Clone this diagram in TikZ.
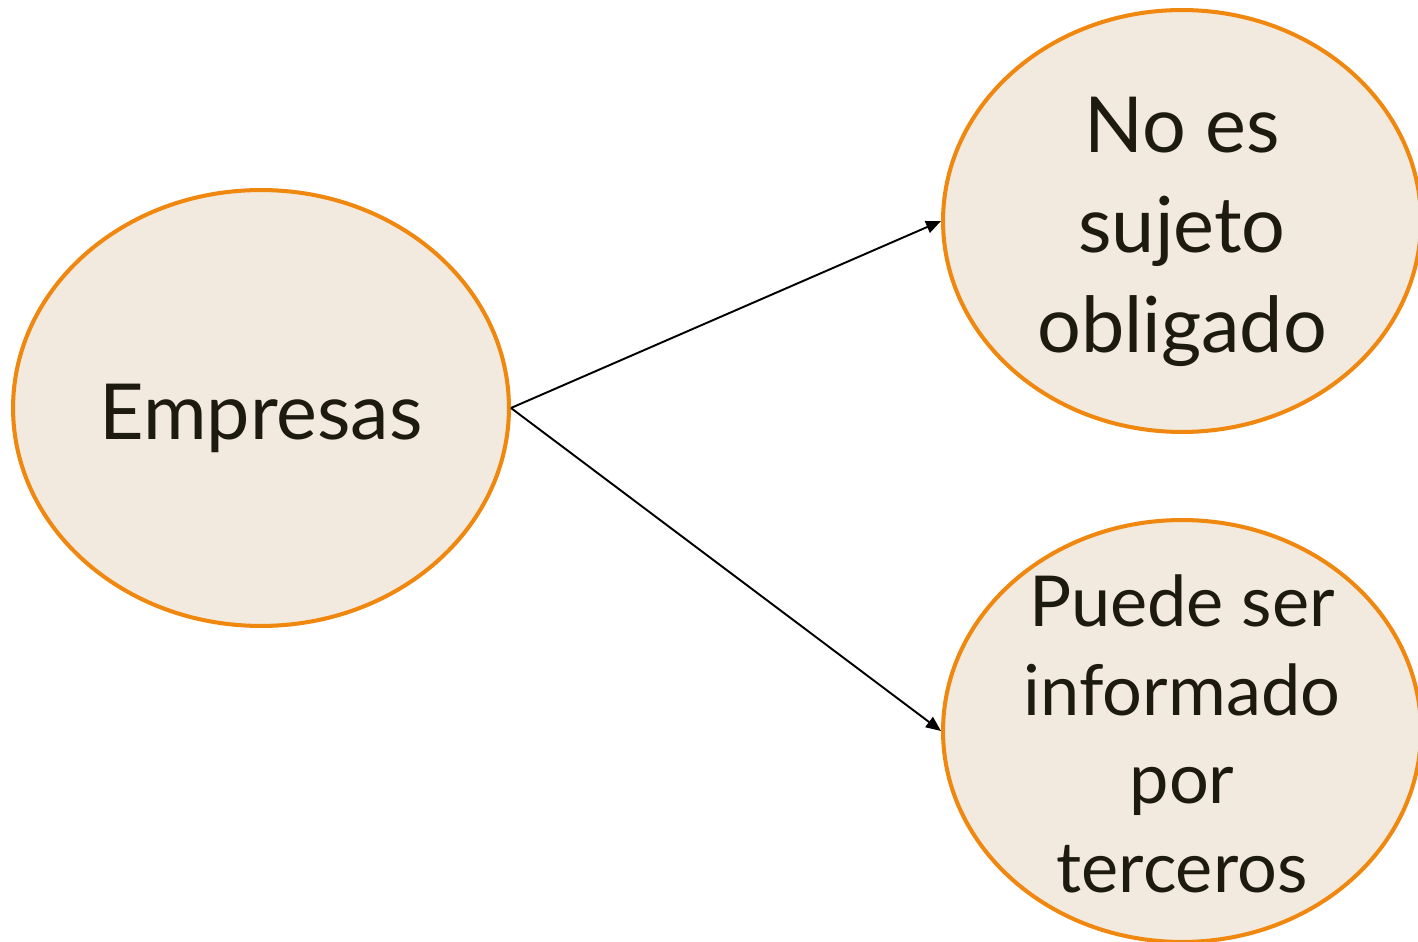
\documentclass[tikz,border=0pt]{standalone}
\usepackage{fontspec}
\setmainfont{Lato}
\usetikzlibrary{shapes.geometric, arrows.meta}
\definecolor{bubblefill}{HTML}{F2EADF}
\definecolor{bubbleline}{HTML}{F0870F}
\definecolor{inkdark}{HTML}{1D1A10}

\begin{document}
\begin{tikzpicture}[
  x=0.02cm, y=-0.02cm,
  bubble/.style={ellipse, draw=bubbleline, fill=bubblefill, line width=2.3pt, inner sep=0pt},
  bubbletext/.style={inner sep=0pt, align=center, text=inkdark},
  arrow/.style={-{Triangle[length=3mm, width=2.5mm]}, line width=1.1pt}
]
  \useasboundingbox (0,0) rectangle (1418,942);
  % Bubbles
  \node[bubble, minimum width=9.92cm, minimum height=8.72cm] (empresas) at (261,408) {};
  \node[bubble, minimum width=9.56cm, minimum height=8.44cm] (noobligado) at (1182,221) {};
  \node[bubble, minimum width=9.56cm, minimum height=8.44cm] (terceros) at (1182,731) {};

  % Texts
  \node[bubbletext, font=\fontsize{44}{57}\selectfont] (empresastext) at ([yshift=-0.2cm]empresas.center) {Empresas};
  \node[bubbletext, font=\fontsize{44}{57}\selectfont] (noobligadotext) at ([yshift=-0.22cm]noobligado.center) {No es\\sujeto\\obligado};
  \node[bubbletext, font=\fontsize{40}{50.5}\selectfont] (tercerostext) at ([yshift=-0.06cm]terceros.center) {Puede ser\\informado\\por\\terceros};

  \draw[arrow] (empresas.east) -- (noobligado.west);
  \draw[arrow] (empresas.east) -- (terceros.west);
\end{tikzpicture}
\end{document}
